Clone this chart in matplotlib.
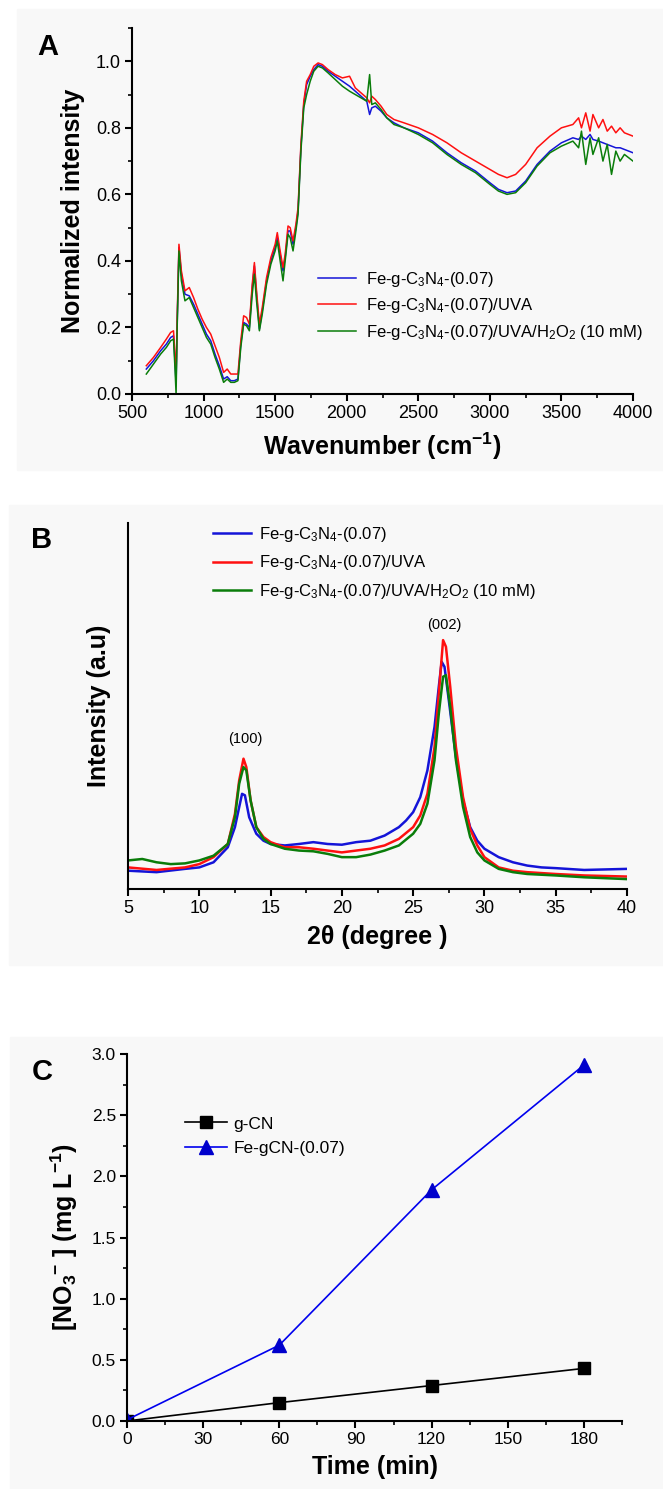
import matplotlib
matplotlib.use("Agg")
import matplotlib.pyplot as plt
from matplotlib.patches import Rectangle
from matplotlib.ticker import MultipleLocator, NullLocator

plt.rcParams['font.family'] = ['Liberation Sans', 'DejaVu Sans']
plt.rcParams['mathtext.default'] = 'regular'

# ---- panel A: normalized spectra ----
wn = [600, 650, 700, 740, 770, 790, 800, 808, 815, 828, 845, 870, 900, 930, 960, 990,
      1020, 1050, 1080, 1110, 1140, 1165, 1190, 1215, 1240, 1260, 1280, 1300, 1320, 1340,
      1355, 1370, 1390, 1410, 1440, 1470, 1500, 1515, 1535, 1555, 1570, 1590, 1605, 1625,
      1645, 1660, 1680, 1700, 1720, 1745, 1770, 1800, 1830, 1870, 1920, 1970, 2020, 2060,
      2100, 2140, 2160, 2175, 2200, 2240, 2280, 2330, 2400, 2500, 2600, 2700, 2800, 2900,
      3000, 3060, 3120, 3180, 3250, 3330, 3420, 3500, 3580, 3620, 3640, 3670, 3700, 3720,
      3760, 3790, 3820, 3850, 3880, 3910, 3940, 4000]
a_blue = [.075, .10, .13, .15, .17, .175, .10, .03, .20, .44, .36, .30, .295, .27, .24, .21,
          .18, .16, .12, .085, .045, .052, .04, .04, .045, .15, .215, .21, .20, .32,
          .385, .30, .195, .25, .34, .40, .44, .47, .42, .37, .41, .49, .49, .45,
          .50, .55, .74, .87, .93, .955, .975, .99, .985, .97, .955, .94, .925, .91,
          .895, .88, .84, .86, .865, .85, .83, .815, .80, .785, .76, .725, .695, .67,
          .635, .615, .605, .61, .64, .69, .73, .755, .77, .765, .775, .765, .78, .765,
          .76, .755, .75, .745, .74, .74, .735, .725]
a_red = [.085, .11, .14, .165, .185, .19, .12, .05, .22, .45, .37, .31, .32, .29, .255, .225,
         .20, .18, .145, .11, .065, .075, .06, .06, .06, .16, .235, .23, .21, .33,
         .395, .31, .21, .26, .35, .41, .45, .485, .43, .38, .42, .505, .50, .46,
         .51, .56, .75, .88, .94, .96, .985, .995, .99, .975, .96, .95, .955, .92,
         .905, .89, .875, .895, .885, .865, .84, .825, .815, .80, .78, .755, .725, .70,
         .675, .66, .65, .66, .69, .74, .775, .80, .81, .83, .80, .845, .79, .84,
         .80, .825, .79, .805, .785, .80, .785, .775]
a_green = [.06, .09, .12, .14, .16, .165, .08, 0.0, .19, .43, .34, .28, .29, .26, .23, .20,
           .17, .15, .11, .075, .035, .045, .035, .035, .04, .14, .21, .205, .19, .30,
           .36, .28, .19, .24, .33, .39, .43, .46, .40, .34, .40, .48, .47, .43,
           .49, .54, .73, .86, .90, .94, .97, .985, .98, .965, .945, .925, .91, .90,
           .89, .88, .96, .87, .875, .855, .83, .81, .80, .78, .755, .72, .69, .665,
           .63, .61, .60, .605, .635, .685, .725, .745, .76, .74, .79, .69, .77, .72,
           .77, .70, .75, .66, .73, .70, .72, .70]

# ---- panel B: XRD ----
b_blue_x = [5, 7, 9, 10, 11, 12, 12.5, 12.8, 13.0, 13.2, 13.5, 14, 14.5, 15, 16, 17, 18, 19,
            20, 21, 22, 23, 24, 24.5, 25, 25.5, 26, 26.5, 26.8, 27.0, 27.2, 27.5, 28, 28.5,
            29, 29.5, 30, 31, 32, 33, 34, 35, 37, 40]
b_blue = [5.0, 4.6, 5.5, 5.9, 7.3, 11.4, 16.9, 22.4, 26.0, 25.6, 19.6, 15.1, 13.2, 12.3,
          11.9, 12.3, 12.8, 12.3, 12.1, 12.8, 13.2, 14.6, 16.9, 18.7, 21.0, 25.1, 32.4,
          44.3, 55.3, 62.1, 60.7, 51.6, 36.1, 24.2, 16.9, 13.2, 11.0, 8.7, 7.3, 6.4, 5.9,
          5.7, 5.2, 5.5]
b_red_x = [5, 7, 9, 10, 11, 12, 12.5, 12.8, 13.1, 13.3, 13.6, 14, 14.5, 15, 16, 17, 18, 19,
           20, 21, 22, 23, 24, 25, 25.5, 26, 26.5, 26.8, 27.1, 27.3, 27.6, 28, 28.5, 29,
           29.5, 30, 31, 32, 33, 35, 37, 40]
b_red = [5.9, 5.2, 5.9, 6.8, 8.7, 12.3, 20.5, 29.7, 35.6, 33.3, 24.2, 16.9, 14.2, 12.8,
         11.4, 11.4, 11.0, 10.5, 10.0, 10.5, 11.0, 11.9, 13.7, 16.9, 20.1, 26.0, 38.8,
         53.4, 68.0, 66.2, 55.3, 38.8, 25.1, 16.4, 11.9, 8.7, 5.9, 5.0, 4.6, 4.1, 3.7, 3.4]
b_green_x = [5, 6, 7, 8, 9, 10, 11, 12, 12.5, 12.8, 13.1, 13.3, 13.6, 14, 14.5, 15, 16, 17,
             18, 19, 20, 21, 22, 23, 24, 25, 25.5, 26, 26.5, 26.8, 27.1, 27.3, 27.6, 28,
             28.5, 29, 29.5, 30, 31, 32, 33, 35, 37, 40]
b_green = [7.8, 8.2, 7.3, 6.8, 7.0, 7.8, 9.1, 12.3, 19.6, 28.8, 33.3, 32.4, 24.2, 16.9,
           13.7, 12.3, 11.0, 10.5, 10.3, 9.6, 8.7, 8.7, 9.4, 10.5, 11.9, 15.1, 17.8, 23.3,
           35.2, 47.9, 58.0, 58.4, 49.8, 35.2, 22.4, 14.2, 10.0, 7.8, 5.5, 4.6, 4.1, 3.7,
           3.2, 2.7]
peak_labels = ["(100)", "(002)"]
peak_pos = [13.2, 27.2]
peak_lab_y = [41, 72]

# ---- panel C: nitrate formation ----
t_min = [0, 60, 120, 180]
no3_gcn = [0.0, 0.15, 0.29, 0.43]
no3_fe = [0.01, 0.62, 1.89, 2.91]

series_labels = [r"Fe-g-C$_3$N$_4$-(0.07)", r"Fe-g-C$_3$N$_4$-(0.07)/UVA",
                 r"Fe-g-C$_3$N$_4$-(0.07)/UVA/H$_2$O$_2$ (10 mM)"]
cols = ["#1414d8", "#ff1010", "#0a7d0a"]

W, H = 663, 1489
fig = plt.figure(figsize=(W / 100, H / 100), dpi=100)
fig.patch.set_facecolor("white")
for x0, y0, y1 in [(17, 9, 470), (9, 505, 965), (10, 1037, 1489)]:
    fig.patches.append(Rectangle((x0 / W, 1 - y1 / H), 1 - x0 / W, (y1 - y0) / H,
                                 transform=fig.transFigure, color="#f8f8f8", zorder=-10))


def make_ax(l, r, t, b):
    ax = fig.add_axes([l / W, 1 - b / H, (r - l) / W, (b - t) / H])
    ax.set_facecolor("none")
    for s in ["top", "right"]:
        ax.spines[s].set_visible(False)
    for s in ["left", "bottom"]:
        ax.spines[s].set_linewidth(1.5)
    ax.tick_params(which="major", direction="out", length=5, width=1.5, labelsize=13, pad=3)
    ax.tick_params(which="minor", direction="out", length=3, width=1.2)
    return ax


# A
ax = make_ax(132, 633, 28, 394)
for y, c, lab in zip([a_blue, a_red, a_green], cols, series_labels):
    ax.plot(wn, y, color=c, lw=1.1, label=lab)
ax.set_xlim(500, 4000)
ax.set_ylim(0, 1.1)
ax.xaxis.set_major_locator(MultipleLocator(500))
ax.xaxis.set_minor_locator(MultipleLocator(250))
ax.yaxis.set_minor_locator(MultipleLocator(0.1))
ax.set_yticks([0, 0.2, 0.4, 0.6, 0.8, 1.0])
ax.yaxis.set_major_formatter(plt.FormatStrFormatter("%.1f"))
ax.set_xlabel("Wavenumber (cm$^{-1}$)", fontsize=18, fontweight="bold", labelpad=6)
ax.set_ylabel("Normalized intensity", fontsize=18, fontweight="bold", labelpad=8)
ax.legend(loc="upper left", bbox_to_anchor=(0.371, 0.34), frameon=False, fontsize=12,
          handlelength=2.3, handletextpad=0.6, labelspacing=0.45, borderaxespad=0, borderpad=0)
fig.text(48 / W, 1 - 47 / H, "A", fontsize=21, fontweight="bold", ha="center", va="center")

# B
ax = make_ax(128, 627, 523, 889)
for xs, y, c, lab in zip([b_blue_x, b_red_x, b_green_x], [b_blue, b_red, b_green], cols,
                         series_labels):
    ax.plot(xs, y, color=c, lw=1.8, label=lab)
ax.set_xlim(5, 40)
ax.set_ylim(0, 100)
ax.xaxis.set_major_locator(MultipleLocator(5))
ax.xaxis.set_minor_locator(MultipleLocator(2.5))
ax.yaxis.set_major_locator(NullLocator())
for lab, xp, yp in zip(peak_labels, peak_pos, peak_lab_y):
    ax.text(xp, yp, lab, fontsize=10.5, ha="center", va="center")
ax.set_xlabel("2θ (degree )", fontsize=18, fontweight="bold", labelpad=6)
ax.set_ylabel("Intensity (a.u)", fontsize=18, fontweight="bold", labelpad=12)
ax.legend(loc="upper left", bbox_to_anchor=(0.17, 0.995), frameon=False, fontsize=12,
          handlelength=2.3, handletextpad=0.5, labelspacing=0.58, borderaxespad=0, borderpad=0)
fig.text(42 / W, 1 - 540 / H, "B", fontsize=21, fontweight="bold", ha="center", va="center")

# C
ax = make_ax(127, 622, 1054, 1421)
ax.plot(t_min, no3_gcn, color="black", lw=1.2, marker="s", ms=8, label="g-CN")
ax.plot(t_min, no3_fe, color="#0000ee", lw=1.2, marker="^", ms=10, mfc="#0000cc",
        mec="#0000cc", label="Fe-gCN-(0.07)")
ax.set_xlim(0, 195)
ax.set_ylim(0, 3.0)
ax.xaxis.set_major_locator(MultipleLocator(30))
ax.xaxis.set_minor_locator(MultipleLocator(15))
ax.yaxis.set_major_locator(MultipleLocator(0.5))
ax.yaxis.set_minor_locator(MultipleLocator(0.25))
ax.yaxis.set_major_formatter(plt.FormatStrFormatter("%.1f"))
ax.tick_params(labelsize=12.5)
ax.set_xlabel("Time (min)", fontsize=18, fontweight="bold", labelpad=6)
ax.set_ylabel(r"[NO$_3$$^{-}$ ] (mg L$^{-1}$)", fontsize=18, fontweight="bold", labelpad=8)
ax.legend(loc="upper left", bbox_to_anchor=(0.117, 0.83), frameon=False, fontsize=12.5,
          handlelength=2.4, handletextpad=0.4, labelspacing=0.55, borderaxespad=0, borderpad=0)
fig.text(42 / W, 1 - 1072 / H, "C", fontsize=21, fontweight="bold", ha="center", va="center")

fig.savefig("out.png", dpi=100)
